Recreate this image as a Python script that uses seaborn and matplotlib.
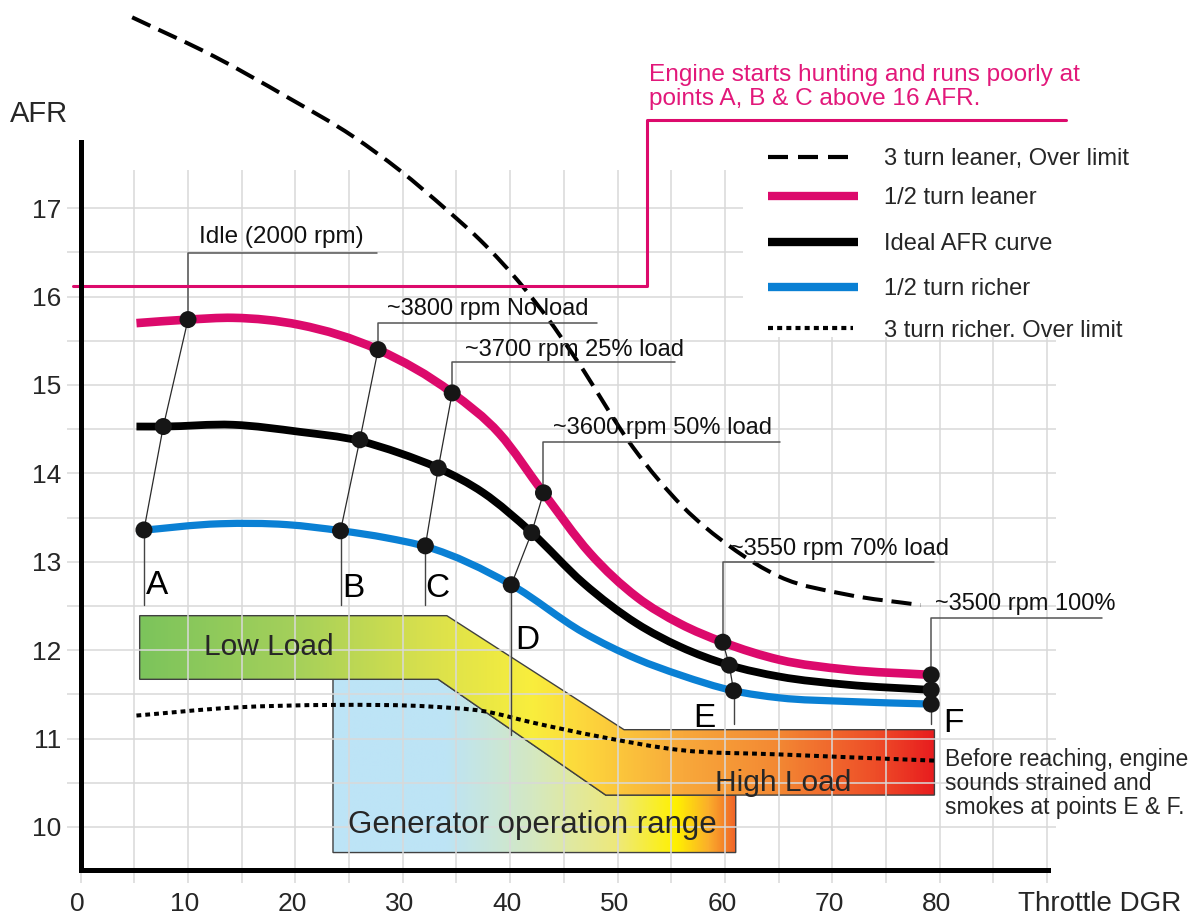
import numpy as np
import seaborn as sns
import matplotlib.pyplot as plt
from matplotlib.patches import Polygon, Rectangle, PathPatch
from matplotlib.path import Path
from matplotlib.colors import LinearSegmentedColormap

# ---- curves (throttle deg, AFR) ----
lean3_x = [4.8, 12.4, 19.2, 25.4, 29.7, 34.1, 37.2, 41.2, 43.4, 46.2, 51.4, 56.1, 60.5, 65.1, 71.3, 78.2]
lean3_y = [19.16, 18.72, 18.26, 17.81, 17.43, 16.98, 16.64, 16.11, 15.77, 15.28, 14.30, 13.62, 13.17, 12.83, 12.63, 12.51]

lean_x = [5.2, 10.0, 14.2, 20.4, 27.7, 34.6, 39.0, 43.1, 47.4, 51.8, 55.8, 59.8, 65.1, 71.3, 79.2]
lean_y = [15.70, 15.74, 15.76, 15.68, 15.40, 14.91, 14.45, 13.78, 13.10, 12.60, 12.30, 12.09, 11.89, 11.78, 11.72]

ideal_x = [5.2, 7.7, 14.2, 20.4, 25.9, 29.7, 33.3, 37.5, 42.0, 46.8, 51.8, 55.8, 60.4, 65.1, 71.3, 79.2]
ideal_y = [14.53, 14.53, 14.55, 14.47, 14.37, 14.23, 14.06, 13.78, 13.33, 12.76, 12.30, 12.04, 11.83, 11.70, 11.61, 11.55]

rich_x = [5.2, 13.0, 19.2, 24.3, 28.5, 32.2, 40.1, 46.8, 51.8, 55.8, 60.8, 65.1, 71.3, 79.2]
rich_y = [13.35, 13.43, 13.42, 13.35, 13.27, 13.17, 12.74, 12.20, 11.90, 11.72, 11.54, 11.46, 11.42, 11.39]

rich3_x = [5.2, 14.2, 23.5, 32.8, 37.5, 42.1, 48.4, 55.8, 65.1, 79.5]
rich3_y = [11.26, 11.35, 11.38, 11.36, 11.31, 11.18, 11.02, 10.87, 10.82, 10.75]

# operating points A..F : (richer, ideal, leaner)
pt_names = ["A", "B", "C", "D", "E", "F"]
pt_rich = [(5.9, 13.36), (24.2, 13.35), (32.1, 13.18), (40.1, 12.74), (60.8, 11.54), (79.2, 11.39)]
pt_ideal = [(7.7, 14.53), (26.0, 14.38), (33.3, 14.06), (42.0, 13.33), (60.4, 11.83), (79.2, 11.55)]
pt_lean = [(10.0, 15.74), (27.7, 15.40), (34.6, 14.91), (43.1, 13.78), (59.8, 12.09), (79.2, 11.72)]
pt_labels = ["Idle (2000 rpm)", "~3800 rpm No load", "~3700 rpm 25% load",
             "~3600 rpm 50% load", "~3550 rpm 70% load", "~3500 rpm 100%"]
leader_top = [16.49, 15.70, 15.26, 14.36, 13.00, 12.36]
leader_end = [27.6, 48.1, 55.3, 65.1, 79.5, 95.1]
drop_bottom = [12.51, 12.51, 12.51, 11.04, 11.16, 11.17]

# load regions
band_poly = [(5.5, 12.39), (34.1, 12.39), (50.6, 11.10), (79.5, 11.10),
             (79.5, 10.36), (48.9, 10.36), (33.3, 11.67), (5.5, 11.67)]
gen_poly = [(23.5, 11.67), (33.3, 11.67), (48.9, 10.36), (61.0, 10.36),
            (61.0, 9.71), (23.5, 9.71)]

x_ticks = [0, 10, 20, 30, 40, 50, 60, 70, 80]
y_ticks = [10, 11, 12, 13, 14, 15, 16, 17]

legend_labels = ["3 turn leaner, Over limit", "1/2 turn leaner", "Ideal AFR curve",
                 "1/2 turn richer", "3 turn richer. Over limit"]

PINK = "#dc0a6c"
BLUE = "#0a80d4"
GRID = "#d9d9d9"

sns.set_style("white")
plt.rcParams["font.family"] = ["Liberation Sans", "DejaVu Sans"]

fig = plt.figure(figsize=(11.94, 9.16), dpi=100)
ax = fig.add_axes([0, 0, 1, 1])
X0, X1, Y0, Y1 = -7.505, 103.67, 8.992, 19.356


def gradient_patch(verts, stops, colors, z):
    xs = [v[0] for v in verts]
    ys = [v[1] for v in verts]
    x0, x1 = min(xs), max(xs)
    pos = [(s - x0) / (x1 - x0) for s in stops]
    cmap = LinearSegmentedColormap.from_list("g", list(zip(pos, colors)))
    img = np.linspace(0, 1, 512)[None, :]
    im = ax.imshow(img, cmap=cmap, extent=[x0, x1, min(ys), max(ys)], aspect="auto",
                   origin="lower", zorder=z, interpolation="bilinear")
    edge = Polygon(verts, closed=True, fill=False, edgecolor="#404040", lw=1.0, zorder=z + 0.05)
    ax.add_patch(edge)
    im.set_clip_path(edge)


def smooth_curve(xs, ys, z, **kw):
    # draw the read points as a smooth (cubic Hermite / Bezier) path
    x = np.asarray(xs, float)
    y = np.asarray(ys, float)
    h = np.diff(x)
    d = np.diff(y) / h
    m = np.empty_like(x)
    m[0], m[-1] = d[0], d[-1]
    m[1:-1] = (d[:-1] * h[1:] + d[1:] * h[:-1]) / (h[:-1] + h[1:])
    verts = [(x[0], y[0])]
    codes = [Path.MOVETO]
    for i in range(len(h)):
        verts += [(x[i] + h[i] / 3, y[i] + m[i] * h[i] / 3),
                  (x[i + 1] - h[i] / 3, y[i + 1] - m[i + 1] * h[i] / 3),
                  (x[i + 1], y[i + 1])]
        codes += [Path.CURVE4] * 3
    ax.add_patch(PathPatch(Path(verts, codes), fill=False, capstyle="butt",
                           joinstyle="round", zorder=z, **kw))


gradient_patch(gen_poly, [23.5, 34, 42, 50, 55.5, 58.5, 61.0],
               ["#bde4f7", "#bde4f5", "#d4e8c2", "#eee97a", "#fff100", "#fbae2b", "#f06428"], 1)
gradient_patch(band_poly, [5.5, 20, 32, 42, 47, 56, 65, 74, 79.5],
               ["#7cc45c", "#a5d05a", "#d8e04d", "#f9ee3d", "#fdd63c", "#f8a93b", "#f38833",
                "#ee4e28", "#e81d1f"], 1.2)

# grid
ax.vlines(np.arange(0, 91, 5), 9.36, 17.43, color=GRID, lw=1.1, zorder=2)
ax.hlines(np.arange(10, 17.01, 0.5), -1.27, 90.8, color=GRID, lw=1.1, zorder=2)

# white area behind legend
ax.add_patch(Rectangle((61.68, 15.54), X1 - 61.68, Y1 - 15.54, facecolor="white",
                       edgecolor="none", zorder=2.5))

# curves
smooth_curve(rich3_x, rich3_y, 3, edgecolor="black", lw=2.9, linestyle=(0, (1.2, 1.0)))
smooth_curve(lean3_x, lean3_y, 3, edgecolor="black", lw=2.9, linestyle=(0, (5.0, 2.2)))
smooth_curve(rich_x, rich_y, 4, edgecolor=BLUE, lw=5.2)
smooth_curve(ideal_x, ideal_y, 4, edgecolor="black", lw=5.6)
smooth_curve(lean_x, lean_y, 4, edgecolor=PINK, lw=6.2)

# leaders / connectors
for i in range(len(pt_names)):
    rx, ry = pt_rich[i]
    ix, iy = pt_ideal[i]
    lx, ly = pt_lean[i]
    sns.lineplot(x=[rx, ix, lx], y=[ry, iy, ly], sort=False, ax=ax,
                 color="#2a2a2a", lw=0.9, zorder=4.5)
    ax.plot([rx, rx], [ry, drop_bottom[i]], color="#444444", lw=1.0, zorder=4.5)
    ax.plot([lx, lx, leader_end[i]], [ly, leader_top[i], leader_top[i]],
            color="#555555", lw=1.1, zorder=4.5)

all_pts = pt_rich + pt_ideal + pt_lean
sns.scatterplot(x=[p[0] for p in all_pts], y=[p[1] for p in all_pts], ax=ax, s=150,
                color="#161616", edgecolor="none", zorder=6, legend=False)

# point labels
label_pos = [(11.0, 16.70), (28.5, 15.89), (35.8, 15.42), (44.0, 14.54), (60.5, 13.17), (79.6, 12.55)]
for txt, (tx, ty) in zip(pt_labels, label_pos):
    ax.text(tx, ty, txt, fontsize=17.5 if txt.startswith("Idle") else 17,
            ha="left", va="center_baseline", color="#111111", zorder=7)

letter_pos = [(7.1, 12.77), (25.4, 12.74), (33.2, 12.74), (41.6, 12.15), (58.1, 11.27), (81.3, 11.21)]
for name, (tx, ty) in zip(pt_names, letter_pos):
    ax.text(tx, ty, name, fontsize=24, ha="center", va="center_baseline", color="black", zorder=7)

# region labels
ax.text(17.5, 12.07, "Low Load", fontsize=21.5, ha="center", va="center_baseline", zorder=7)
ax.text(65.4, 10.53, "High Load", fontsize=21.5, ha="center", va="center_baseline", zorder=7)
ax.text(42.1, 10.06, "Generator operation range", fontsize=22.5, ha="center",
        va="center_baseline", zorder=7)

ax.text(80.44, 10.49, "Before reaching, engine\nsounds strained and\nsmokes at points E & F.",
        fontsize=16.5, ha="left", va="center", linespacing=1.05, zorder=7)

# pink 16 AFR limit annotation
ax.plot([-0.7, 52.7, 52.7, 91.75], [16.12, 16.12, 18.0, 18.0], color=PINK, lw=2.2, zorder=5)
ax.text(52.97, 18.37, "Engine starts hunting and runs poorly at\npoints A, B & C above 16 AFR.",
        fontsize=17.6, color="#e2187a", ha="left", va="center", linespacing=1.15, zorder=7)

# legend
leg_y = [17.58, 17.14, 16.62, 16.11, 15.64]
ax.plot([64.0, 71.45], [leg_y[0]] * 2, color="black", lw=3.0, linestyle=(0, (4.8, 2.4)), zorder=6)
ax.plot([64.0, 72.4], [leg_y[1]] * 2, color=PINK, lw=6.0, solid_capstyle="butt", zorder=6)
ax.plot([64.0, 72.4], [leg_y[2]] * 2, color="black", lw=6.0, solid_capstyle="butt", zorder=6)
ax.plot([64.0, 72.4], [leg_y[3]] * 2, color=BLUE, lw=6.0, solid_capstyle="butt", zorder=6)
ax.plot([64.0, 71.9], [leg_y[4]] * 2, color="black", lw=3.0, linestyle=(0, (1.2, 1.0)), zorder=6)
for txt, ty in zip(legend_labels, leg_y):
    ax.text(74.8, ty, txt, fontsize=17, ha="left", va="center_baseline", zorder=7)

# axes
for side in ["top", "right"]:
    ax.spines[side].set_visible(False)
ax.spines["left"].set_position(("data", 0))
ax.spines["left"].set_bounds(9.515, 17.75)
ax.spines["bottom"].set_position(("data", 9.515))
ax.spines["bottom"].set_bounds(0, 90.07)
for side in ["left", "bottom"]:
    ax.spines[side].set_linewidth(3.6)
    ax.spines[side].set_color("black")
    ax.spines[side].set_zorder(8)
ax.set_xticks([])
ax.set_yticks([])
ax.set_xlabel("")
ax.set_ylabel("")

for v in x_ticks:
    ax.text(v - 0.3, 9.16, str(v), fontsize=19, ha="center", va="center_baseline")
for v in y_ticks:
    ax.text(-1.76, v, str(v), fontsize=19, ha="right", va="center_baseline")
ax.text(-3.87, 18.10, "AFR", fontsize=21, ha="center", va="center_baseline")
ax.text(94.9, 9.16, "Throttle DGR", fontsize=20, ha="center", va="center_baseline")

ax.set_xlim(X0, X1)
ax.set_ylim(Y0, Y1)
ax.set_facecolor("white")

fig.savefig("out.png", dpi=100, facecolor="white")
